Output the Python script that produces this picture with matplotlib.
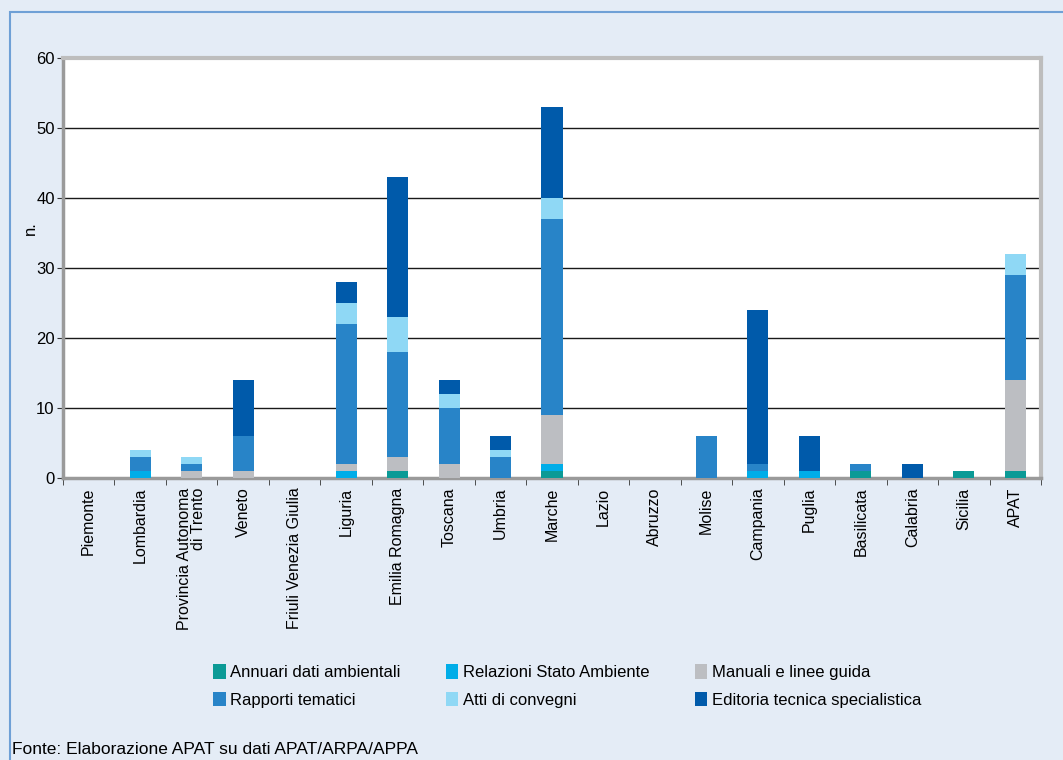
import matplotlib.pyplot as plt
from matplotlib.patches import Rectangle
import numpy as np

plt.rcParams['font.family'] = ['Liberation Sans', 'DejaVu Sans']

regions = ["Piemonte", "Lombardia", "Provincia Autonoma\ndi Trento", "Veneto",
           "Friuli Venezia Giulia", "Liguria", "Emilia Romagna", "Toscana", "Umbria",
           "Marche", "Lazio", "Abruzzo", "Molise", "Campania", "Puglia", "Basilicata",
           "Calabria", "Sicilia", "APAT"]

annuari   = [0, 0, 0, 0, 0, 0, 1, 0, 0, 1, 0, 0, 0, 0, 0, 1, 0, 1, 1]
relazioni = [0, 1, 0, 0, 0, 1, 0, 0, 0, 1, 0, 0, 0, 1, 1, 0, 0, 0, 0]
manuali   = [0, 0, 1, 1, 0, 1, 2, 2, 0, 7, 0, 0, 0, 0, 0, 0, 0, 0, 13]
rapporti  = [0, 2, 1, 5, 0, 20, 15, 8, 3, 28, 0, 0, 6, 1, 0, 1, 0, 0, 15]
atti      = [0, 1, 1, 0, 0, 3, 5, 2, 1, 3, 0, 0, 0, 0, 0, 0, 0, 0, 3]
editoria  = [0, 0, 0, 8, 0, 3, 20, 2, 2, 13, 0, 0, 0, 22, 5, 0, 2, 0, 0]

series = [
    ("Annuari dati ambientali", annuari, "#0b9a96"),
    ("Relazioni Stato Ambiente", relazioni, "#00ade8"),
    ("Manuali e linee guida", manuali, "#bcbec2"),
    ("Rapporti tematici", rapporti, "#2884c8"),
    ("Atti di convegni", atti, "#8fd8f5"),
    ("Editoria tecnica specialistica", editoria, "#005aaa"),
]

W, H = 1063, 760
fig = plt.figure(figsize=(W / 100, H / 100), dpi=100)
fig.patch.set_facecolor("#e4ecf6")
# outer frame
fig.patches.append(Rectangle((10 / W, -0.05), 1.1, (H - 12) / H + 0.05,
                             transform=fig.transFigure, fill=False,
                             edgecolor="#6fa0d6", linewidth=1.5))

ax = fig.add_axes([63 / W, 1 - 478 / H, (1041 - 63) / W, (478 - 58) / H])
ax.set_facecolor("white")

x = np.arange(len(regions))
bottom = np.zeros(len(regions))
handles = []
for name, vals, col in series:
    b = ax.bar(x, vals, width=0.41, bottom=bottom, color=col, label=name, zorder=3)
    handles.append(b)
    bottom += np.array(vals)

ax.set_ylim(0, 60)
ax.set_xlim(-0.5, len(regions) - 0.5)
ax.set_yticks(range(0, 61, 10))
ax.yaxis.grid(True, color="#1a1a1a", linewidth=1.0, zorder=1)
ax.tick_params(axis="y", labelsize=12, length=4, color="#333333", pad=2)

ax.set_xticks(x)
ax.set_xticklabels(regions, rotation=90, fontsize=11.5, va="top",
                   multialignment="right", linespacing=0.95)
ax.tick_params(axis="x", length=0, pad=7)
ax.set_xticks(np.arange(-0.5, len(regions), 1), minor=True)
ax.tick_params(axis="x", which="minor", length=5, color="#333333")

for s in ["left", "bottom"]:
    ax.spines[s].set_color("#9a9a9a")
    ax.spines[s].set_linewidth(2.5)
for s in ["top", "right"]:
    ax.spines[s].set_color("#bdbdbd")
    ax.spines[s].set_linewidth(3)

fig.text(30 / W, 1 - 228 / H, "n.", rotation=90, fontsize=12, ha="center", va="center")

order = [0, 3, 1, 4, 2, 5]
fig.legend([handles[i] for i in order], [series[i][0] for i in order],
           ncol=3, loc="upper left", bbox_to_anchor=(213 / W, 1 - 664 / H),
           frameon=False, fontsize=12, handlelength=0.75, handleheight=1.0,
           handletextpad=0.3, columnspacing=2.7, labelspacing=0.68, borderpad=0,
           borderaxespad=0)

fig.text(12 / W, 1 - 750 / H, "Fonte: Elaborazione APAT su dati APAT/ARPA/APPA",
         fontsize=12.5, ha="left", va="center")

fig.savefig("out.png", dpi=100, facecolor=fig.get_facecolor())
